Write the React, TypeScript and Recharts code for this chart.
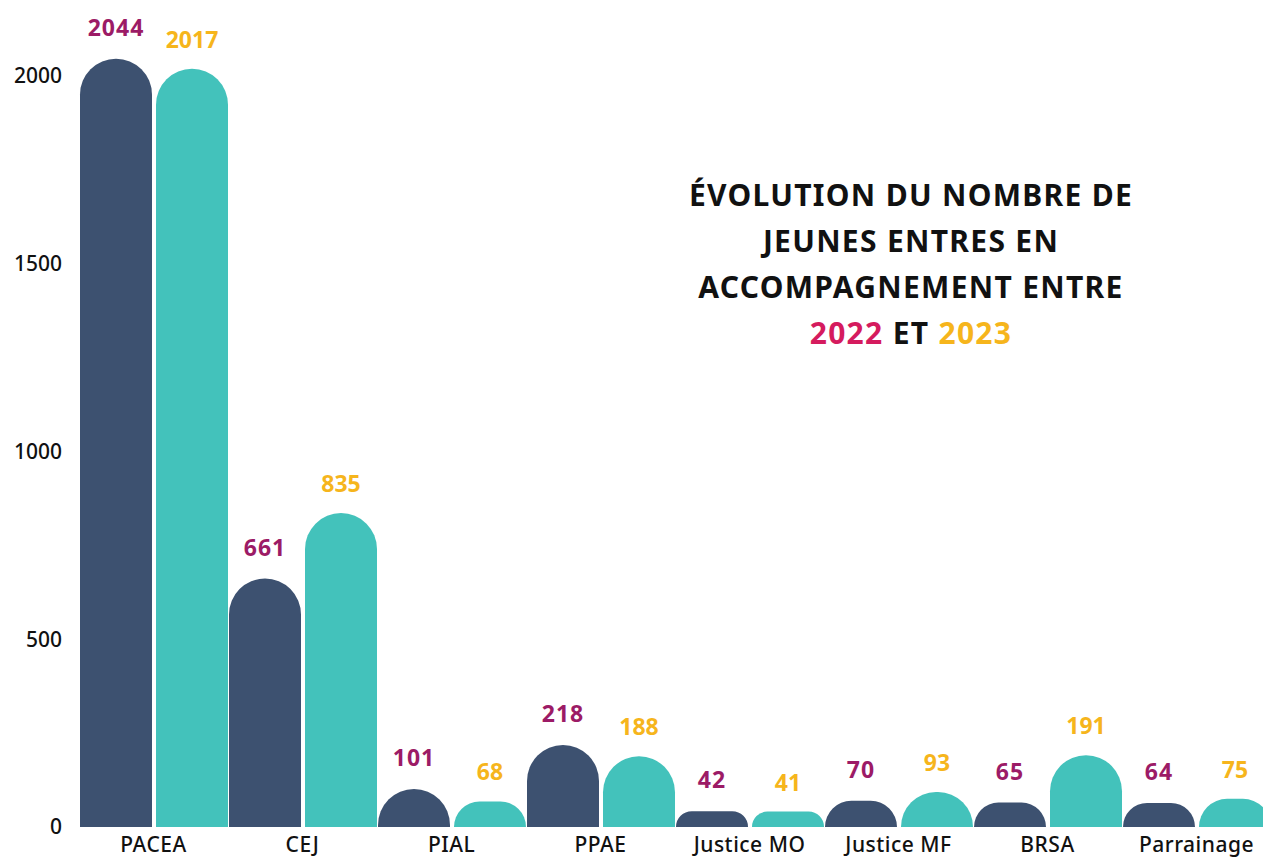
import React from 'react';
import { BarChart, Bar, XAxis, YAxis, LabelList } from 'recharts';

const categories = ['PACEA', 'CEJ', 'PIAL', 'PPAE', 'Justice MO', 'Justice MF', 'BRSA', 'Parrainage'];
const values2022 = [2044, 661, 101, 218, 42, 70, 65, 64];
const values2023 = [2017, 835, 68, 188, 41, 93, 191, 75];
const yTicks = [0, 500, 1000, 1500, 2000];

const chartData = categories.map((name, i) => ({
    name,
    y2022: values2022[i],
    y2023: values2023[i],
}));

const FONT = '"Noto Sans", sans-serif';

// bar with rounded top corners, radius capped by the bar height
const RoundTopBar = (props: { x?: number; y?: number; width?: number; height?: number; fill?: string }) => {
    const { x = 0, y = 0, width = 0, height = 0, fill } = props;
    if (height <= 0) return null;
    const r = Math.min(width / 2, height);
    const d = `M${x},${y + height} L${x},${y + r} A${r},${r} 0 0 1 ${x + r},${y} L${x + width - r},${y} A${r},${r} 0 0 1 ${x + width},${y + r} L${x + width},${y + height} Z`;
    return <path d={d} fill={fill} />;
};

const App: React.FC = () => {
    return (
        <div style={{ position: 'absolute', top: 0, left: 0, width: 1263, height: 857, overflow: 'hidden', background: '#fff' }}>
            <BarChart
                width={1271}
                height={857}
                data={chartData}
                margin={{ top: 0, right: 0, left: 0, bottom: 0 }}
                barSize={72}
                barGap={4}
            >
                <XAxis
                    dataKey="name"
                    axisLine={false}
                    tickLine={false}
                    height={30}
                    tickMargin={4}
                    interval={0}
                    tick={{ fill: '#111', fontSize: 21, fontFamily: FONT, fontWeight: 500, letterSpacing: 0.5 }}
                />
                <YAxis
                    domain={[0, 2200]}
                    ticks={yTicks}
                    axisLine={false}
                    tickLine={false}
                    width={79}
                    tickMargin={11}
                    tick={{ fill: '#111', fontSize: 21, fontFamily: FONT, fontWeight: 500 }}
                />
                <Bar dataKey="y2022" fill="#3d5170" shape={<RoundTopBar />} isAnimationActive={false}>
                    <LabelList
                        dataKey="y2022"
                        position="top"
                        offset={23}
                        fill="#9c1b66"
                        fontSize={23}
                        fontWeight={700}
                        fontFamily={FONT}
                        letterSpacing={1}
                    />
                </Bar>
                <Bar dataKey="y2023" fill="#43c2bb" shape={<RoundTopBar />} isAnimationActive={false}>
                    <LabelList
                        dataKey="y2023"
                        position="top"
                        offset={21}
                        fill="#f6b51c"
                        fontSize={23}
                        fontWeight={700}
                        fontFamily={FONT}
                    />
                </Bar>
            </BarChart>
            <div
                style={{
                    position: 'absolute',
                    left: 611,
                    top: 172,
                    width: 600,
                    textAlign: 'center',
                    fontFamily: FONT,
                    fontWeight: 700,
                    fontSize: 30,
                    lineHeight: '46px',
                    letterSpacing: 1.3,
                    color: '#111',
                }}
            >
                ÉVOLUTION DU NOMBRE DE
                <br />
                JEUNES ENTRES EN
                <br />
                ACCOMPAGNEMENT ENTRE
                <br />
                <span style={{ color: '#d51b5e' }}>2022</span> ET <span style={{ color: '#f6b51c' }}>2023</span>
            </div>
        </div>
    );
};

export default App;
